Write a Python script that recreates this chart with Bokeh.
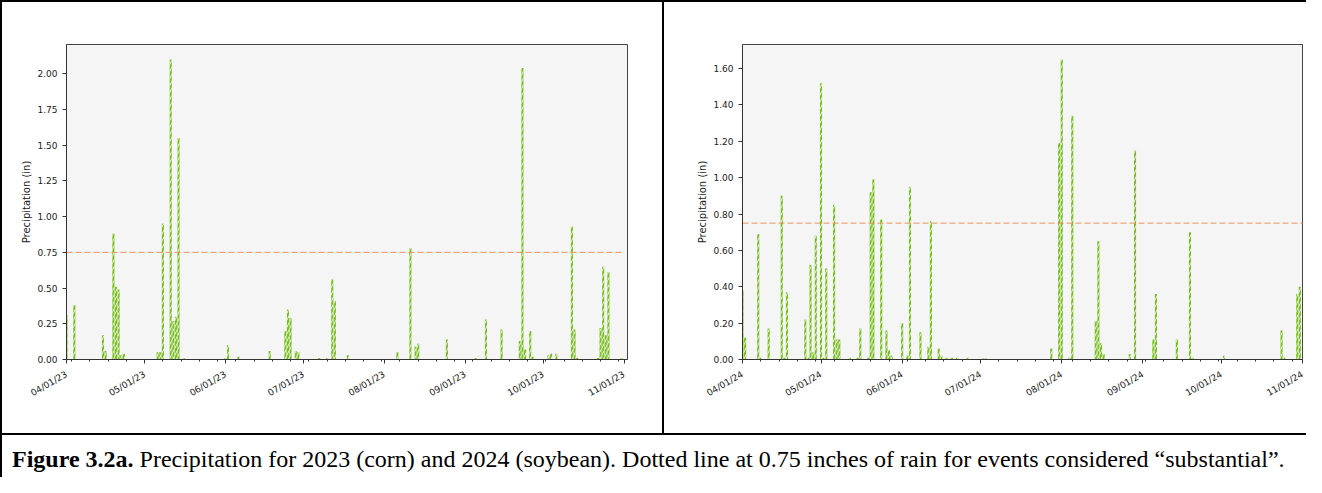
import pandas as pd
from math import pi
from bokeh.plotting import figure
from bokeh.models import (Range1d, FixedTicker, DatetimeTickFormatter, NumeralTickFormatter,
                          Div, ColumnDataSource)
from bokeh.layouts import column, row
from bokeh.embed import file_html
from bokeh.resources import INLINE

# ---------------- data ----------------
dates_2023 = ["2023-04-01", "2023-04-04", "2023-04-15", "2023-04-16", "2023-04-19", "2023-04-20",
              "2023-04-21", "2023-04-22", "2023-04-23", "2023-05-06", "2023-05-07", "2023-05-08",
              "2023-05-11", "2023-05-12", "2023-05-13", "2023-05-14", "2023-05-16", "2023-06-01",
              "2023-06-02", "2023-06-06", "2023-06-18", "2023-06-24", "2023-06-25", "2023-06-26",
              "2023-06-28", "2023-06-29", "2023-07-07", "2023-07-10", "2023-07-12", "2023-07-13",
              "2023-07-18", "2023-08-06", "2023-08-11", "2023-08-13", "2023-08-14", "2023-08-25",
              "2023-09-05", "2023-09-09", "2023-09-15", "2023-09-22", "2023-09-23", "2023-09-24",
              "2023-09-26", "2023-09-27", "2023-10-03", "2023-10-04", "2023-10-06", "2023-10-12",
              "2023-10-13", "2023-10-14", "2023-10-22", "2023-10-23", "2023-10-24", "2023-10-25",
              "2023-10-26", "2023-10-31"]
precip_2023 = [0.31, 0.38, 0.17, 0.06, 0.88, 0.51,
               0.49, 0.03, 0.04, 0.05, 0.05, 0.95,
               2.10, 0.27, 0.30, 1.55, 0.01, 0.01,
               0.10, 0.02, 0.06, 0.20, 0.35, 0.29,
               0.06, 0.05, 0.01, 0.01, 0.56, 0.41,
               0.03, 0.05, 0.78, 0.09, 0.11, 0.14,
               0.01, 0.28, 0.21, 0.13, 2.04, 0.07,
               0.20, 0.02, 0.03, 0.04, 0.04, 0.93,
               0.21, 0.01, 0.01, 0.22, 0.65, 0.17,
               0.61, 0.01]

dates_2024 = ["2024-04-01", "2024-04-02", "2024-04-07", "2024-04-08", "2024-04-11", "2024-04-16",
              "2024-04-17", "2024-04-18", "2024-04-25", "2024-04-26", "2024-04-27", "2024-04-28",
              "2024-04-29", "2024-05-01", "2024-05-02", "2024-05-03", "2024-05-06", "2024-05-07",
              "2024-05-08", "2024-05-12", "2024-05-15", "2024-05-16", "2024-05-19", "2024-05-20",
              "2024-05-21", "2024-05-24", "2024-05-26", "2024-05-27", "2024-05-28", "2024-06-01",
              "2024-06-03", "2024-06-04", "2024-06-08", "2024-06-11", "2024-06-12", "2024-06-15",
              "2024-06-16", "2024-06-18", "2024-06-20", "2024-06-22", "2024-06-26", "2024-07-02",
              "2024-07-03", "2024-07-28", "2024-07-31", "2024-08-01", "2024-08-04", "2024-08-05",
              "2024-08-14", "2024-08-15", "2024-08-16", "2024-08-17", "2024-08-27", "2024-08-29",
              "2024-09-05", "2024-09-06", "2024-09-14", "2024-09-19", "2024-09-20", "2024-10-02",
              "2024-10-24", "2024-10-25", "2024-10-30", "2024-10-31"]
precip_2024 = [0.38, 0.12, 0.69, 0.01, 0.17, 0.90,
               0.01, 0.37, 0.22, 0.01, 0.52, 0.04,
               0.68, 1.52, 0.01, 0.50, 0.85, 0.11,
               0.11, 0.01, 0.01, 0.17, 0.01, 0.92,
               0.99, 0.77, 0.16, 0.05, 0.02, 0.20,
               0.02, 0.95, 0.15, 0.07, 0.76, 0.06,
               0.02, 0.01, 0.01, 0.01, 0.01, 0.005,
               0.005, 0.06, 1.19, 1.65, 0.01, 1.34,
               0.21, 0.65, 0.09, 0.03, 0.03, 1.15,
               0.11, 0.36, 0.11, 0.70, 0.01, 0.02,
               0.16, 0.01, 0.36, 0.40]

threshold = 0.75
threshold_span_2023 = ["2023-04-01", "2023-10-31"]
threshold_span_2024 = ["2024-04-01", "2024-11-02"]
xlim_2023 = ["2023-04-01", "2023-11-02 08:00"]
xlim_2024 = ["2024-04-01", "2024-11-01"]
ylim_2023 = [0, 2.205]
ylim_2024 = [0, 1.7325]
yticks_2023 = [0.0, 0.25, 0.5, 0.75, 1.0, 1.25, 1.5, 1.75, 2.0]
yticks_2024 = [0.0, 0.2, 0.4, 0.6, 0.8, 1.0, 1.2, 1.4, 1.6]
y_label = "Precipitation (in)"
caption_bold = "Figure 3.2a."
caption_text = (" Precipitation for 2023 (corn) and 2024 (soybean). Dotted line at 0.75 inches of "
                "rain for events considered \u201csubstantial\u201d.")

BAR_GREEN = "#76bd1d"
LINE_ORANGE = "#ee9258"
DAY_MS = 86400000


def ms(ts):
    return pd.Timestamp(ts).value // 10**6


def make_chart(dates, vals, xlim, ylim, yticks, span, w, h, borders):
    x0, x1 = pd.Timestamp(xlim[0]), pd.Timestamp(xlim[1])
    p = figure(width=w, height=h, output_backend="svg", toolbar_location=None,
               x_axis_type="datetime",
               x_range=Range1d(x0, x1), y_range=Range1d(ylim[0], ylim[1]),
               min_border_left=borders[0], min_border_right=borders[1],
               min_border_top=borders[2], min_border_bottom=borders[3], margin=0)
    p.background_fill_color = "#f5f5f5"
    p.border_fill_color = "white"
    p.outline_line_color = "#444444"
    p.outline_line_width = 1
    p.grid.grid_line_color = None

    src = ColumnDataSource(dict(x=pd.to_datetime(dates), top=vals))
    p.vbar(x="x", top="top", width=0.8 * DAY_MS, bottom=0, source=src,
           fill_color=BAR_GREEN, line_color=None,
           hatch_pattern="/", hatch_color="white", hatch_scale=7, hatch_weight=1.0,
           hatch_alpha=0.9)

    p.line(x=pd.to_datetime(span), y=[threshold, threshold], line_color=LINE_ORANGE,
           line_width=1, line_dash="6 3")

    # ticks
    months = pd.date_range(x0.normalize(), x1, freq="MS")
    mondays = pd.date_range(x0.normalize(), x1, freq="W-MON")
    p.xaxis.ticker = FixedTicker(ticks=[ms(t) for t in months],
                                 minor_ticks=[ms(t) for t in mondays])
    fmt = "%m/%d/%y"
    p.xaxis.formatter = DatetimeTickFormatter(milliseconds=fmt, seconds=fmt, minsec=fmt,
                                              minutes=fmt, hourmin=fmt, hours=fmt, days=fmt,
                                              months=fmt, years=fmt)
    p.xaxis.major_label_orientation = pi / 6
    p.yaxis.ticker = FixedTicker(ticks=yticks)
    p.yaxis.formatter = NumeralTickFormatter(format="0.00")
    p.yaxis.axis_label = y_label

    for ax in (p.xaxis[0], p.yaxis[0]):
        ax.axis_line_color = "#333333"
        ax.major_tick_line_color = "#333333"
        ax.major_tick_in = 0
        ax.major_tick_out = 4
        ax.minor_tick_in = 0
        ax.minor_tick_out = 2
        ax.major_label_text_font = "DejaVu Sans"
        ax.major_label_text_font_size = "9px"
        ax.major_label_text_color = "#222222"
        ax.axis_label_text_font = "DejaVu Sans"
        ax.axis_label_text_font_size = "10px"
        ax.axis_label_text_font_style = "normal"
        ax.axis_label_text_color = "#222222"
    p.xaxis.minor_tick_line_color = "#333333"
    p.yaxis.minor_tick_line_color = None
    p.yaxis.major_label_standoff = 5
    p.yaxis.axis_label_standoff = 2
    p.xaxis.major_label_standoff = 10
    return p


def bar(w, h):
    return Div(width=w, height=h, margin=0, styles={"background-color": "black"})


fig1 = make_chart(dates_2023, precip_2023, xlim_2023, ylim_2023, yticks_2023,
                  threshold_span_2023, 660, 431, (64, 35, 42, 74))
fig2 = make_chart(dates_2024, precip_2024, xlim_2024, ylim_2024, yticks_2024,
                  threshold_span_2024, 642, 431, (78, 4, 39, 69))

caption = Div(width=1304, height=42, margin=0,
              text=("<div style=\"font-family:'Liberation Serif','Times New Roman',serif;"
                    "font-size:24px;line-height:28px;color:#000;white-space:nowrap;"
                    "padding:10px 0 0 10px;\">"
                    "<b>" + caption_bold + "</b>" + caption_text + "</div>"))

layout = column(
    bar(1306, 2),
    row(bar(2, 431), fig1, bar(2, 431), fig2, spacing=0, margin=0),
    bar(1306, 2),
    row(bar(2, 42), caption, spacing=0, margin=0),
    spacing=0, margin=0,
)

open("out.html", "w").write(file_html(layout, INLINE))
